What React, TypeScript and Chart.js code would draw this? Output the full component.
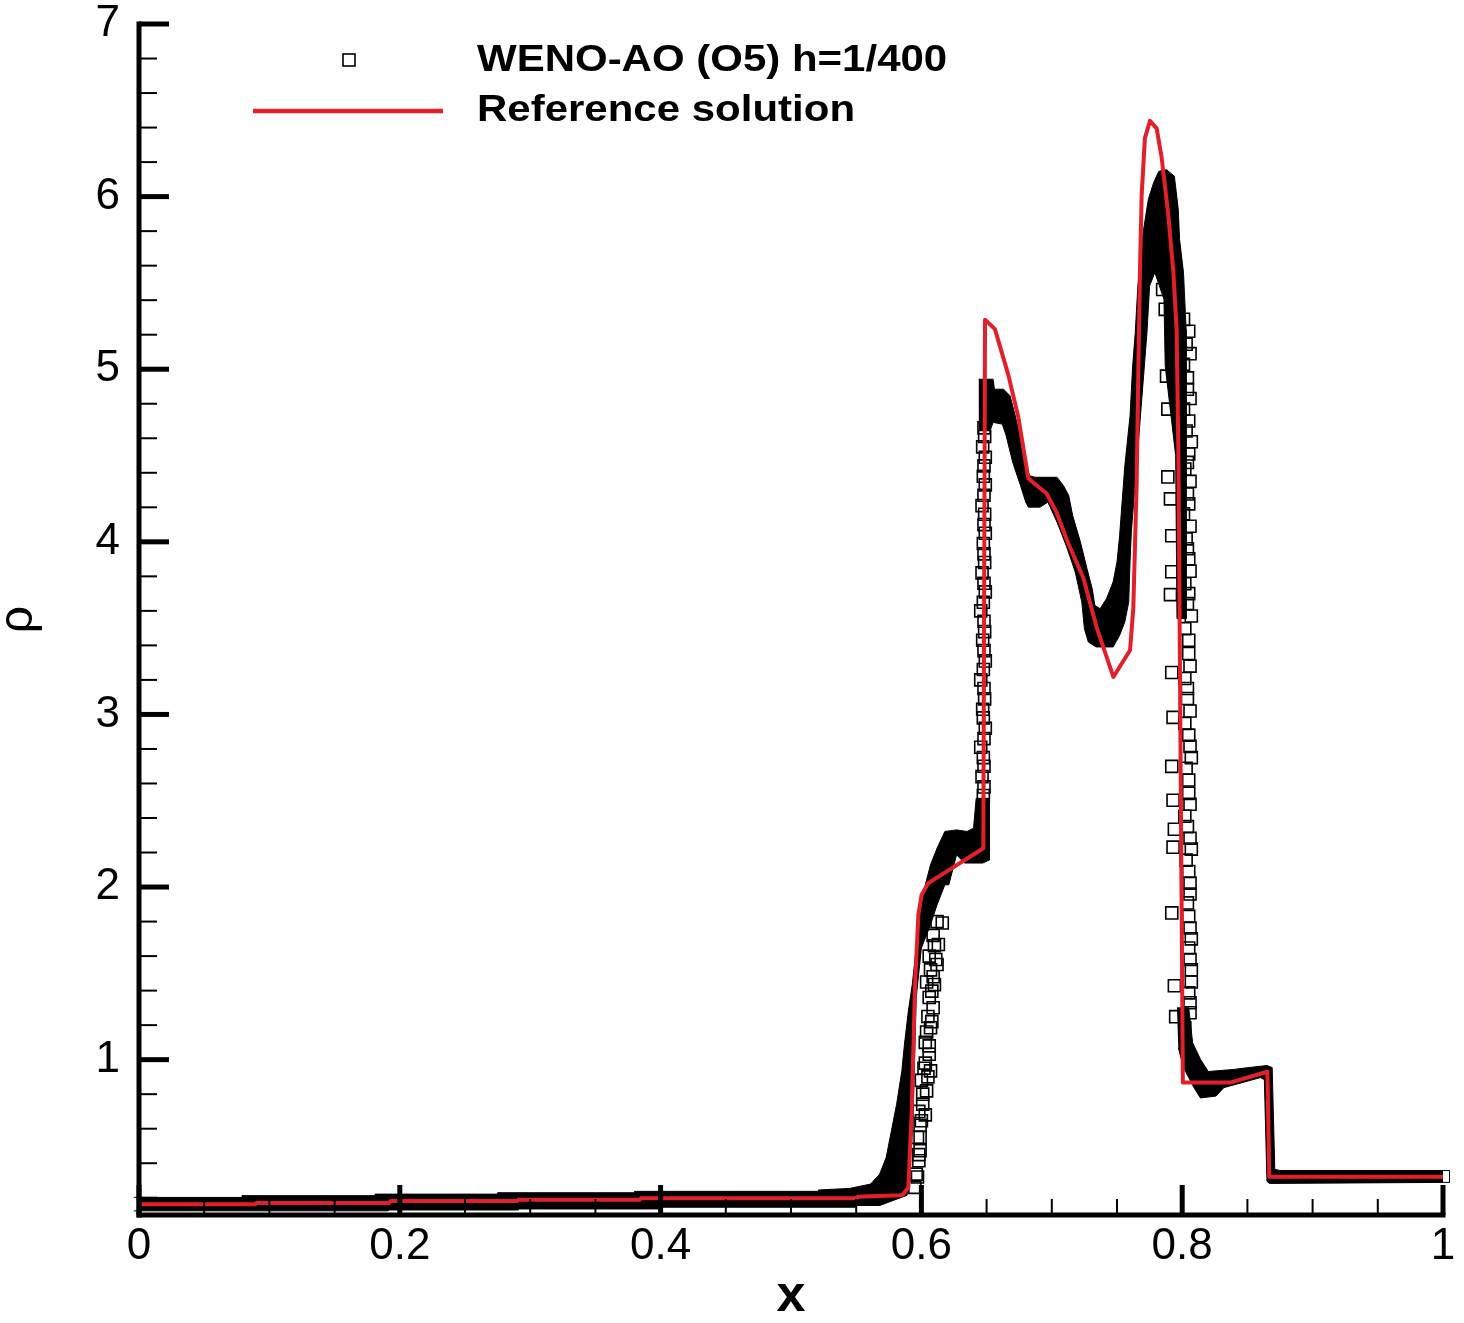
import React, { useEffect, useRef } from 'react';
import { Chart, registerables } from 'chart.js';

Chart.register(...registerables);

const FONT = '"Liberation Sans", Arial, Helvetica, sans-serif';
const RED = '#e3202a';

// Axis ticks
const xTickValues = [0, 0.2, 0.4, 0.6, 0.8, 1];
const xTickLabels = ['0', '0.2', '0.4', '0.6', '0.8', '1'];
const yTickValues = [1, 2, 3, 4, 5, 6, 7];
const yTickLabels = ['1', '2', '3', '4', '5', '6', '7'];

// Reference solution (red line)
const refX = [0, 0.089, 0.09, 0.192, 0.193, 0.29, 0.291, 0.384, 0.385, 0.55, 0.551, 0.584, 0.586, 0.59, 0.5926, 0.5951, 0.5977, 0.6002, 0.6053, 0.6475, 0.6488, 0.6564, 0.6667, 0.6743, 0.682, 0.6871, 0.696, 0.7037, 0.7126, 0.7241, 0.7344, 0.7472, 0.76, 0.7625, 0.7651, 0.7664, 0.7676, 0.7689, 0.7714, 0.7753, 0.7804, 0.7842, 0.7893, 0.7932, 0.7957, 0.797, 0.7977, 0.8005, 0.8367, 0.8653, 0.8668, 1.0];
const refY = [0.162, 0.162, 0.17, 0.17, 0.181, 0.181, 0.189, 0.189, 0.197, 0.197, 0.206, 0.214, 0.22, 0.26, 0.703, 1.435, 1.84, 1.956, 2.023, 2.225, 5.287, 5.232, 4.966, 4.723, 4.368, 4.335, 4.28, 4.169, 3.992, 3.793, 3.505, 3.217, 3.372, 3.615, 4.346, 5.01, 5.564, 6.007, 6.339, 6.439, 6.395, 6.228, 5.897, 5.564, 5.232, 4.568, 3.903, 0.867, 0.867, 0.93, 0.322, 0.322];

// WENO-AO dense point cloud: outline of the solid region (left part / rise)
const bandAX = [-0.004, 0.079, 0.079, 0.181, 0.181, 0.275, 0.275, 0.38, 0.38, 0.521, 0.521, 0.545, 0.561, 0.568, 0.573, 0.577, 0.581, 0.585, 0.587, 0.59, 0.593, 0.596, 0.599, 0.603, 0.607, 0.612, 0.618, 0.627, 0.635, 0.64, 0.642, 0.652, 0.652, 0.647, 0.633, 0.627, 0.621, 0.618, 0.612, 0.607, 0.6, 0.596, 0.594, 0.593, 0.591, 0.589, 0.568, 0.549, 0.549, 0.4, 0.4, 0.291, 0.291, 0.191, 0.191, -0.004];
const bandAY = [0.202, 0.202, 0.212, 0.212, 0.221, 0.221, 0.229, 0.229, 0.237, 0.237, 0.245, 0.254, 0.279, 0.337, 0.434, 0.588, 0.742, 0.935, 1.089, 1.282, 1.435, 1.647, 1.879, 2.013, 2.129, 2.225, 2.322, 2.331, 2.322, 2.341, 2.514, 2.514, 2.156, 2.139, 2.139, 2.187, 2.013, 2.013, 1.897, 1.782, 1.647, 1.358, 0.78, 0.588, 0.395, 0.214, 0.155, 0.155, 0.145, 0.145, 0.135, 0.135, 0.129, 0.129, 0.124, 0.124];

// Outline of the solid region (plateau, dip and main peak)
const bandBX = [0.644, 0.655, 0.656, 0.663, 0.668, 0.672, 0.676, 0.679, 0.683, 0.687, 0.704, 0.709, 0.713, 0.716, 0.722, 0.727, 0.731, 0.733, 0.737, 0.742, 0.747, 0.75, 0.752, 0.756, 0.76, 0.762, 0.764, 0.766, 0.77, 0.774, 0.778, 0.782, 0.788, 0.794, 0.797, 0.798, 0.801, 0.803, 0.803, 0.796, 0.795, 0.787, 0.786, 0.779, 0.775, 0.773, 0.769, 0.765, 0.761, 0.76, 0.759, 0.756, 0.752, 0.747, 0.734, 0.728, 0.725, 0.723, 0.718, 0.711, 0.704, 0.697, 0.691, 0.682, 0.68, 0.676, 0.67, 0.665, 0.662, 0.655, 0.653, 0.644];
const bandBY = [4.942, 4.942, 4.884, 4.884, 4.846, 4.73, 4.595, 4.461, 4.383, 4.374, 4.374, 4.325, 4.268, 4.152, 3.998, 3.844, 3.728, 3.632, 3.613, 3.671, 3.767, 3.883, 4.036, 4.441, 4.73, 5.019, 5.212, 5.482, 5.79, 5.983, 6.079, 6.146, 6.156, 6.118, 5.925, 5.751, 5.559, 5.231, 3.555, 3.555, 4.5, 5.017, 5.405, 5.561, 5.482, 5.214, 4.827, 4.441, 4.058, 3.884, 3.651, 3.536, 3.458, 3.391, 3.391, 3.42, 3.497, 3.651, 3.825, 3.979, 4.114, 4.23, 4.201, 4.201, 4.23, 4.326, 4.461, 4.615, 4.682, 4.692, 4.65, 4.65];

// Outline of the solid region (right part)
const bandCX = [0.796, 0.805, 0.808, 0.814, 0.82, 0.839, 0.852, 0.865, 0.869, 0.871, 0.875, 1.005, 1.005, 0.867, 0.865, 0.863, 0.86, 0.832, 0.826, 0.814, 0.809, 0.801, 0.797];
const bandCY = [1.3, 1.3, 1.098, 1.002, 0.931, 0.943, 0.955, 0.966, 0.954, 0.364, 0.358, 0.358, 0.289, 0.283, 0.295, 0.884, 0.896, 0.838, 0.789, 0.778, 0.838, 0.955, 1.069];

// Individually visible WENO-AO squares
const squaresX = [
  0.616, 0.613, 0.612, 0.61, 0.608, 0.609, 0.607, 0.606, 0.607, 0.604, 0.601, 0.6, 0.599, 0.599, 0.598, 0.596, 0.595, 0.603, 0.605, 0.602, 0.604, 0.606, 0.609, 0.6, 0.598, 0.597,
  0.597, 0.598, 0.599, 0.601, 0.603, 0.604, 0.606, 0.607, 0.61, 0.612, 0.603, 0.605, 0.606, 0.608, 0.609, 0.611,
  0.648, 0.6485, 0.647, 0.649, 0.648, 0.6475, 0.649, 0.648, 0.6465, 0.6485, 0.648, 0.649, 0.6475, 0.648, 0.6485, 0.6465, 0.648, 0.649, 0.6475, 0.6455, 0.648, 0.6485, 0.647, 0.648, 0.649, 0.6475, 0.6455, 0.648, 0.6485, 0.647, 0.6475, 0.649, 0.648, 0.6455, 0.6475, 0.648, 0.6465, 0.648, 0.6475,
  0.787, 0.788, 0.789, 0.789, 0.791, 0.792, 0.792, 0.791, 0.792, 0.793, 0.792, 0.793, 0.794, 0.793, 0.792, 0.794, 0.795,
  0.801, 0.803, 0.801, 0.804, 0.801, 0.803, 0.805, 0.802, 0.804, 0.801, 0.803, 0.805, 0.802, 0.804, 0.802, 0.805, 0.802, 0.804, 0.802, 0.806, 0.803, 0.805, 0.802, 0.806, 0.803, 0.806, 0.804, 0.806, 0.805, 0.807, 0.805, 0.806, 0.802,
  0.805, 0.806, 0.804, 0.806, 0.805, 0.807, 0.804, 0.806, 0.805, 0.806, 0.804, 0.806, 0.805, 0.807, 0.805, 0.806, 0.804, 0.806, 0.805, 0.807, 0.805, 0.806, 0.804, 0.807, 0.805, 0.806, 0.805, 0.807, 0.806, 0.807, 0.806,
  0.779, 0.784, 0.785,
];
const squaresY = [
  1.792, 1.667, 1.551, 1.435, 1.397, 1.301, 1.185, 1.031, 0.935, 0.819, 0.742, 0.646, 0.549, 0.472, 0.414, 0.337, 0.26, 1.1, 1.25, 0.95, 1.45, 1.6, 1.72, 0.88, 0.7, 0.55,
  0.32, 0.45, 0.62, 0.8, 0.98, 1.16, 1.36, 1.52, 1.66, 1.8, 0.68, 0.9, 1.08, 1.22, 1.48, 1.58,
  4.66, 4.61, 4.55, 4.49, 4.44, 4.38, 4.33, 4.27, 4.21, 4.16, 4.1, 4.05, 3.99, 3.93, 3.88, 3.82, 3.76, 3.71, 3.65, 3.6, 3.54, 3.48, 3.43, 3.37, 3.31, 3.26, 3.2, 3.15, 3.09, 3.03, 2.98, 2.92, 2.86, 2.81, 2.75, 2.7, 2.64, 2.58, 2.53,
  5.347, 4.96, 4.769, 4.376, 4.249, 4.035, 3.827, 3.694, 3.243, 2.983, 2.699, 2.503, 2.335, 2.231, 1.85, 1.428, 1.249,
  5.289, 5.145, 5.029, 4.884, 4.769, 4.642, 4.509, 4.422, 4.277, 4.162, 4.017, 3.902, 3.757, 3.642, 3.497, 3.353, 3.208, 3.092, 2.948, 2.815, 2.688, 2.543, 2.41, 2.283, 2.156, 2.023, 1.908, 1.763, 1.647, 1.52, 1.387, 1.272, 1.185,
  5.22, 5.09, 4.95, 4.83, 4.7, 4.58, 4.46, 4.35, 4.22, 4.09, 3.96, 3.83, 3.7, 3.57, 3.43, 3.28, 3.15, 3.02, 2.88, 2.75, 2.62, 2.48, 2.35, 2.22, 2.09, 1.96, 1.83, 1.7, 1.58, 1.45, 1.33,
  5.694, 5.624, 5.462,
];

const toPts = (xs: number[], ys: number[]) => xs.map((x, i) => ({ x, y: ys[i] }));

const axesPlugin = {
  id: 'tecAxes',
  afterDraw(chart: any) {
    const { ctx, chartArea: a, scales } = chart;
    const sx = scales.x;
    const sy = scales.y;
    const seg = (x1: number, y1: number, x2: number, y2: number, w: number) => {
      ctx.lineWidth = w;
      ctx.beginPath();
      ctx.moveTo(x1, y1);
      ctx.lineTo(x2, y2);
      ctx.stroke();
    };
    ctx.save();
    ctx.strokeStyle = '#000';
    ctx.lineCap = 'butt';
    for (let v = 0.05; v < 1; v += 0.05) {
      if (xTickValues.some((t) => Math.abs(t - v) < 1e-6)) continue;
      const px = sx.getPixelForValue(v);
      seg(px, a.bottom, px, a.bottom - 16, 2);
    }
    for (let v = 0.2; v < 7; v += 0.2) {
      if (yTickValues.some((t) => Math.abs(t - v) < 1e-6)) continue;
      const py = sy.getPixelForValue(v);
      seg(a.left, py, a.left + 18, py, 2);
    }
    xTickValues.forEach((v) => {
      const px = sx.getPixelForValue(v);
      seg(px, a.bottom, px, a.bottom - 30, 5);
    });
    yTickValues.forEach((v) => {
      const py = sy.getPixelForValue(v);
      seg(a.left, py, a.left + 30, py, 5);
    });
    seg(a.left, a.top - 2.5, a.left, a.bottom + 2.5, 5);
    seg(a.left - 2.5, a.bottom, a.right + 2.5, a.bottom, 5);
    ctx.restore();
  },
};

const legendPlugin = {
  id: 'tecLegend',
  afterDraw(chart: any) {
    const { ctx } = chart;
    const ds = chart.data.datasets;
    const weno = ds.find((d: any) => d.label && d.label.startsWith('WENO'));
    const ref = ds.find((d: any) => d.label === 'Reference solution');
    ctx.save();
    ctx.strokeStyle = '#000';
    ctx.lineWidth = 1.6;
    ctx.strokeRect(343, 54, 12, 12);
    ctx.strokeStyle = RED;
    ctx.lineWidth = 4.5;
    ctx.beginPath();
    ctx.moveTo(253, 111);
    ctx.lineTo(443, 111);
    ctx.stroke();
    ctx.fillStyle = '#000';
    ctx.font = `bold 37px ${FONT}`;
    ctx.textBaseline = 'alphabetic';
    ctx.textAlign = 'left';
    ctx.save();
    ctx.translate(477, 71);
    ctx.scale(1.135, 1);
    ctx.fillText(weno.label, 0, 0);
    ctx.restore();
    ctx.save();
    ctx.translate(477, 121);
    ctx.scale(1.135, 1);
    ctx.fillText(ref.label, 0, 0);
    ctx.restore();
    ctx.restore();
  },
};

export default function App() {
  const canvasRef = useRef<HTMLCanvasElement | null>(null);

  useEffect(() => {
    const canvas = canvasRef.current;
    if (!canvas) return;
    const bandStyle: any = {
      type: 'line',
      fill: 'shape',
      backgroundColor: '#000',
      borderColor: '#000',
      borderWidth: 1,
      pointRadius: 0,
      tension: 0,
      clip: false,
      order: 3,
    };
    const chart = new Chart(canvas, {
      type: 'line',
      data: {
        datasets: [
          { ...bandStyle, label: 'cloud A', data: toPts(bandAX, bandAY) },
          { ...bandStyle, label: 'cloud B', data: toPts(bandBX, bandBY) },
          { ...bandStyle, label: 'cloud C', data: toPts(bandCX, bandCY) },
          {
            type: 'scatter',
            label: 'WENO-AO (O5) h=1/400',
            data: toPts(squaresX, squaresY),
            pointStyle: 'rect',
            pointRadius: 8.5,
            pointHoverRadius: 8.5,
            borderColor: '#000',
            borderWidth: 1.6,
            backgroundColor: 'rgba(0,0,0,0)',
            showLine: false,
            clip: false,
            order: 2,
          } as any,
          {
            type: 'line',
            label: 'Reference solution',
            data: toPts(refX, refY),
            borderColor: RED,
            borderWidth: 4,
            borderJoinStyle: 'round',
            pointRadius: 0,
            tension: 0,
            fill: false,
            order: 1,
          } as any,
        ],
      },
      options: {
        responsive: false,
        devicePixelRatio: 1,
        animation: false,
        events: [],
        layout: { padding: { top: 24, right: 21, bottom: 0, left: 0 } },
        plugins: {
          legend: { display: false },
          tooltip: { enabled: false },
        },
        scales: {
          x: {
            type: 'linear',
            min: 0,
            max: 1,
            afterBuildTicks: (s: any) => {
              s.ticks = xTickValues.map((v) => ({ value: v }));
            },
            afterFit: (s: any) => {
              s.height = 108;
              s.paddingLeft = 0;
              s.paddingRight = 0;
            },
            grid: { display: false, drawTicks: false },
            border: { display: false },
            ticks: {
              padding: 10,
              color: '#000',
              autoSkip: false,
              maxRotation: 0,
              font: { family: FONT, size: 44, lineHeight: 1 },
              callback: (_v: any, i: number) => xTickLabels[i],
            },
            title: {
              display: true,
              text: 'x',
              color: '#000',
              padding: 0,
              font: { family: FONT, size: 52, weight: 'bold', lineHeight: 1 },
            },
          },
          y: {
            type: 'linear',
            min: 0.1,
            max: 7,
            afterBuildTicks: (s: any) => {
              s.ticks = yTickValues.map((v) => ({ value: v }));
            },
            afterFit: (s: any) => {
              s.width = 139;
              s.paddingTop = 0;
              s.paddingBottom = 0;
            },
            grid: { display: false, drawTicks: false },
            border: { display: false },
            ticks: {
              padding: 19,
              color: '#000',
              autoSkip: false,
              font: { family: FONT, size: 44, lineHeight: 1 },
              callback: (_v: any, i: number) => yTickLabels[i],
            },
            title: {
              display: true,
              text: 'ρ',
              color: '#000',
              padding: 0,
              font: { family: FONT, size: 48, lineHeight: 0.8 },
            },
          },
        },
      } as any,
      plugins: [axesPlugin, legendPlugin],
    });
    return () => chart.destroy();
  }, []);

  return (
    <div style={{ position: 'absolute', left: 0, top: 0, width: 1464, height: 1323, background: '#fff' }}>
      <canvas ref={canvasRef} width={1464} height={1323} style={{ display: 'block', width: 1464, height: 1323 }} />
    </div>
  );
}
